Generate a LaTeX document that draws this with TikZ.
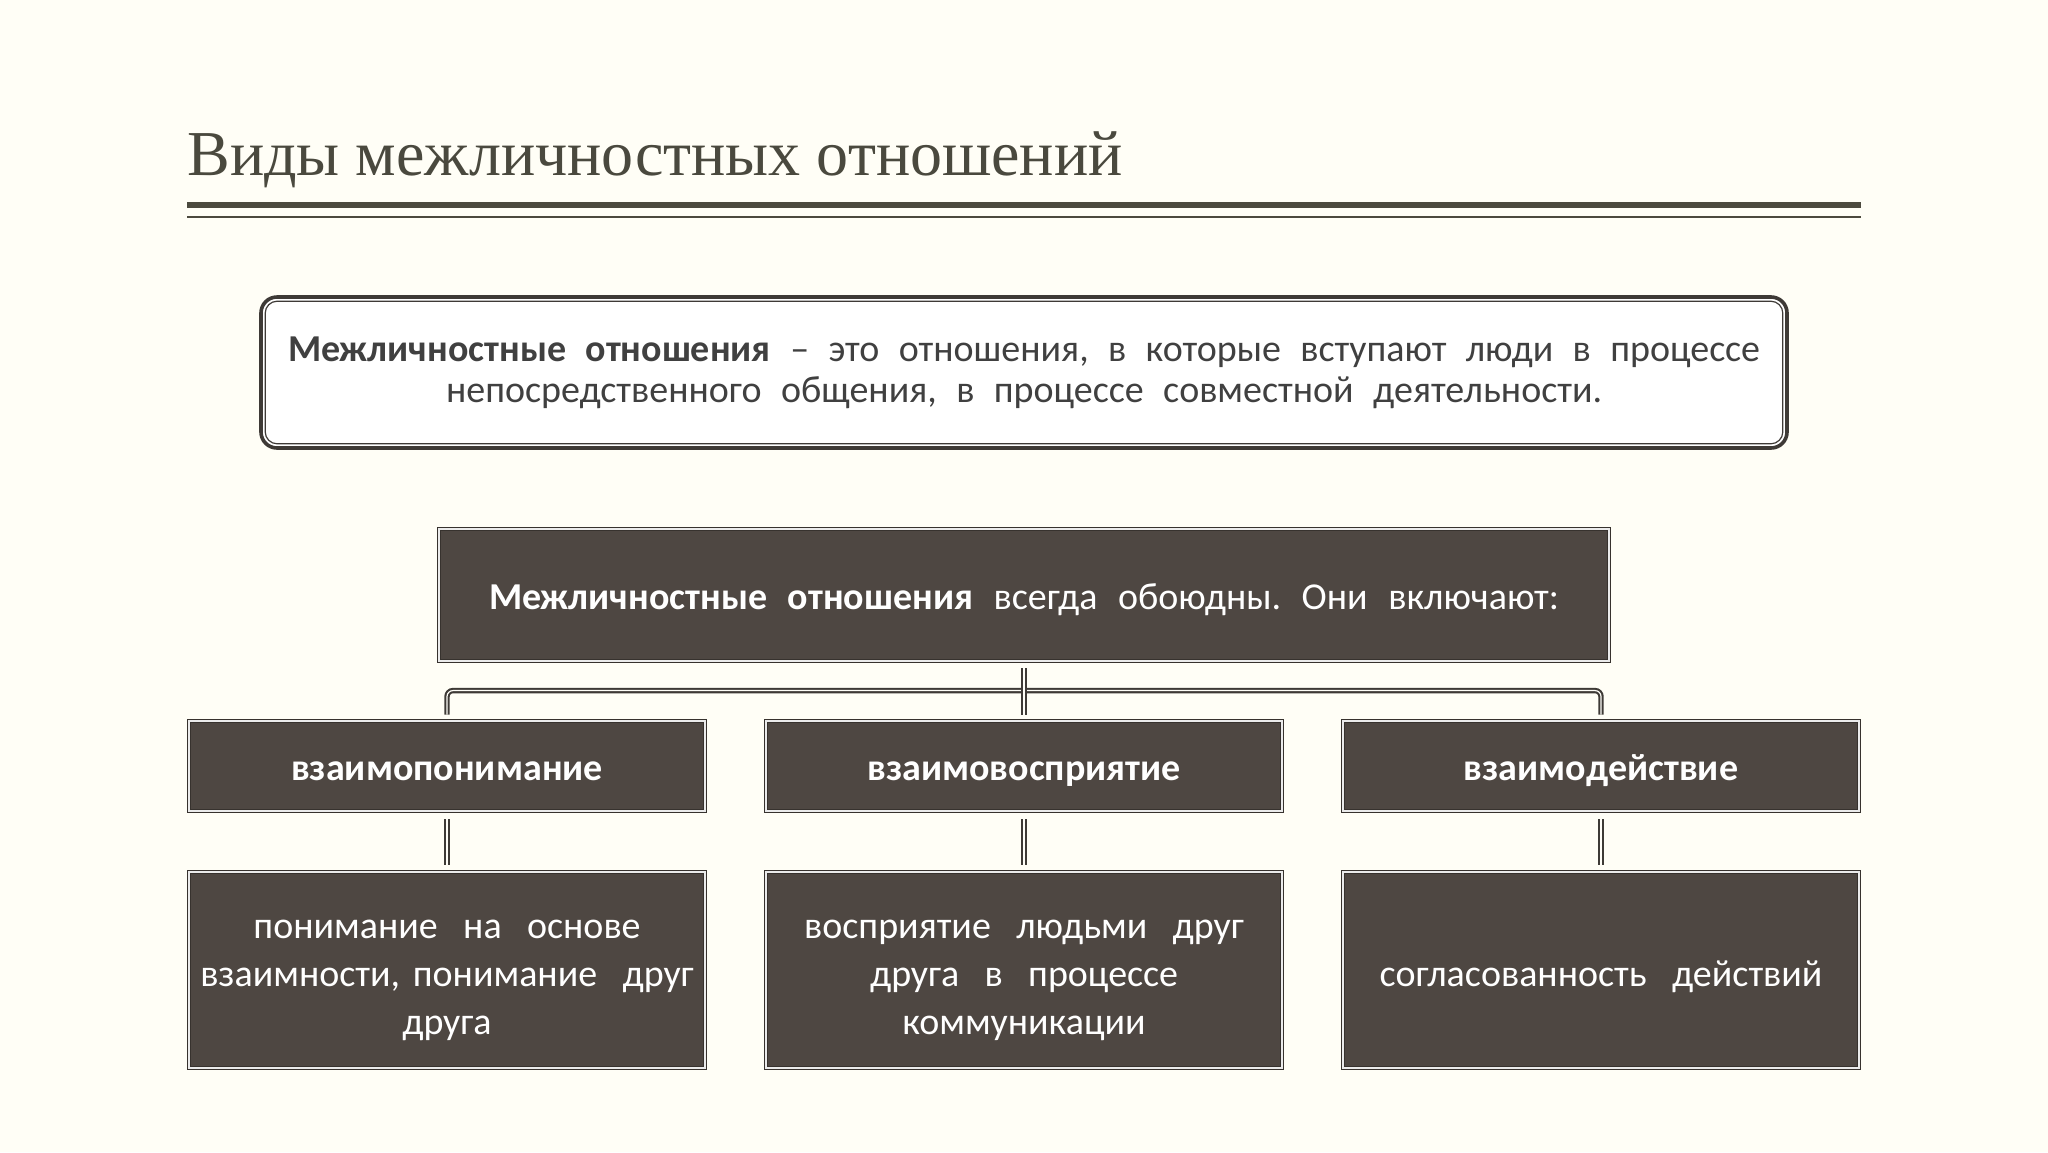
\documentclass[tikz,border=0pt]{standalone}
\usepackage{fontspec}
\setmainfont{Carlito}
\newfontfamily\titlefont{Liberation Serif}
\usetikzlibrary{calc}
\frenchspacing
\definecolor{bgcol}{RGB}{255,254,246}
\definecolor{boxfill}{RGB}{78,71,66}
\definecolor{titlecol}{RGB}{74,73,62}
\definecolor{rulecol}{RGB}{76,74,62}
\definecolor{deftext}{RGB}{64,64,64}
\definecolor{linecol}{RGB}{62,58,54}
\tikzset{
  darkbox/.style={fill=boxfill, draw=boxfill!70!black, double=white!92!black, double distance=0.9pt, line width=0.45pt,
    text=white, align=center, inner sep=0pt},
  conn/.style={draw=linecol, double=bgcol!80!white, double distance=0.6pt, line width=1.05pt},
  boldlbl/.style={font=\fontsize{19}{23}\selectfont\bfseries, text height=17pt, text depth=2.3pt},
  desclbl/.style={font=\fontsize{19}{24}\selectfont},
}
\newcommand{\topstrut}{\rule{0pt}{23.4pt}}
\begin{document}
\begin{tikzpicture}[x=0.5pt,y=-0.5pt]
\fill[bgcol] (0,0) rectangle (2048,1152);
\useasboundingbox (0,0) rectangle (2048,1152);
% title
\node[anchor=base west, inner sep=0pt, text=titlecol, font=\titlefont\fontsize{32}{36}\selectfont] (title) at (187,175) {Виды межличностных отношений};
\draw[rulecol, line width=3.2pt] (187,205) -- (1861,205);
\draw[rulecol, line width=1pt] (187,217) -- (1861,217);
% definition
\node[draw=linecol, line width=1.8pt, rounded corners=8pt, fill=white, minimum width=763pt, minimum height=75.5pt,
  align=center, text=deftext, font=\fontsize{19}{20.5}\selectfont, inner sep=0pt] (def) at (1024,372.5)
  {\makebox[736pt][s]{\textbf{Межличностные отношения} – это отношения, в которые вступают люди в процессе}\\
   \makebox[578pt][s]{непосредственного общения, в процессе совместной деятельности.}};
\draw[linecol, line width=0.6pt, rounded corners=6pt] ($(def.north west)+(6,6)$) rectangle ($(def.south east)+(-6,-6)$);
% top box
\node[darkbox, minimum width=585pt, minimum height=66pt] (top) at (1024,595) {};
\node[text=white, inner sep=0pt, anchor=base, font=\fontsize{19}{20}\selectfont] (toptext) at (1024,609)
  {\makebox[535pt][s]{\textbf{Межличностные отношения} всегда обоюдны. Они включают:}};
% row 2
\node[darkbox, boldlbl, minimum width=258pt, minimum height=45pt] (c1) at (447,766) {взаимопонимание};
\node[darkbox, boldlbl, minimum width=258pt, minimum height=45pt] (c2) at (1024,766) {взаимовосприятие};
\node[darkbox, boldlbl, minimum width=258pt, minimum height=45pt] (c3) at (1601,766) {взаимодействие};
% row 3
\node[darkbox, desclbl, minimum width=258pt, minimum height=98pt, text width=250pt] (d1) at (447,970)
  {\topstrut понимание \ на \ основе\\ взаимности, понимание \ друг\\ друга\strut};
\node[darkbox, desclbl, minimum width=258pt, minimum height=98pt, text width=250pt] (d2) at (1024,970)
  {\topstrut восприятие \ людьми \ друг\\ друга \ в \ процессе\\ коммуникации\strut};
\node[darkbox, desclbl, minimum width=258pt, minimum height=98pt, text width=250pt] (d3) at (1601,970)
  {\topstrut согласованность \ действий\strut};
% connectors
\draw[conn, rounded corners=3pt] ($(c1.north)+(0,-6)$) -- ($(c1.north)+(0,-30)$) -- ($(c3.north)+(0,-30)$) -- ($(c3.north)+(0,-6)$);
\draw[conn] ($(top.south)+(0,7)$) -- ($(c2.north)+(0,-6)$);
\draw[conn] ($(c1.south)+(0,8)$) -- ($(d1.north)+(0,-7)$);
\draw[conn] ($(c2.south)+(0,8)$) -- ($(d2.north)+(0,-7)$);
\draw[conn] ($(c3.south)+(0,8)$) -- ($(d3.north)+(0,-7)$);
\end{tikzpicture}
\end{document}
